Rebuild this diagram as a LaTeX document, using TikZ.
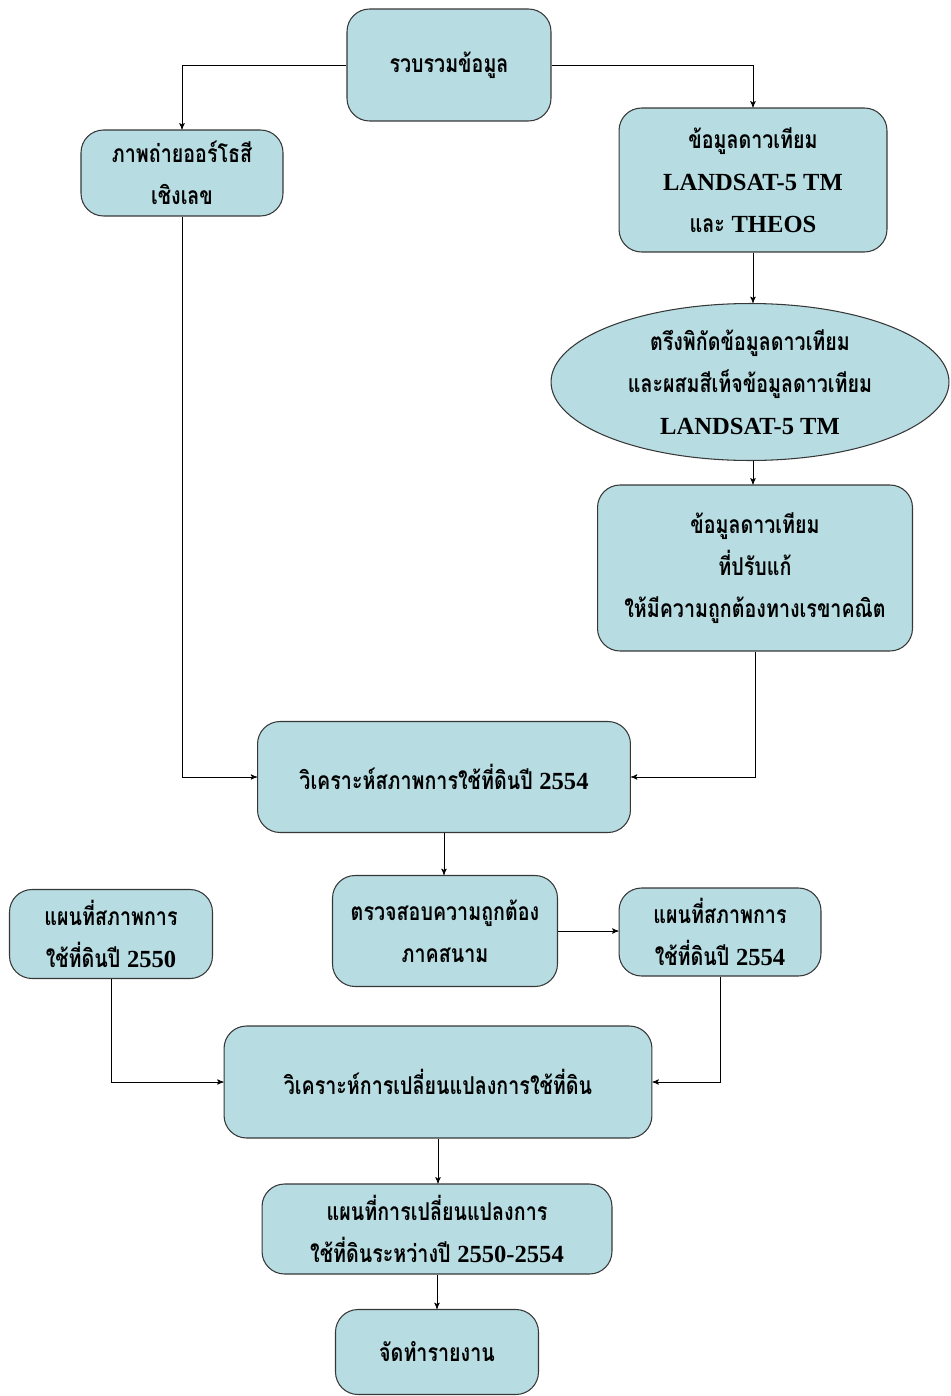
\documentclass[tikz,border=0pt]{standalone}
\usepackage{fontspec}
\setmainfont{Liberation Serif}
\newfontfamily\thaifont[Script=Thai, FakeStretch=0.8]{Loma}
\usetikzlibrary{arrows}
\usetikzlibrary{shapes.geometric}
\definecolor{boxfill}{RGB}{183,221,227}
\definecolor{boxline}{RGB}{55,55,55}
\newcommand{\lat}[1]{{\rmfamily\bfseries #1}}
\tikzset{
    flowtext/.style = {align=center, inner sep=0pt, text centered,
        font=\thaifont\bfseries\fontsize{14}{24}\selectfont},
    flowbox/.style = {flowtext, rectangle, rounded corners=0.45cm, draw=boxline,
        fill=boxfill, semithick},% กล่องขั้นตอน
    flowoval/.style = {flowtext, ellipse, draw=boxline, fill=boxfill, semithick},% วงรี
    flowline/.style = {->, >=stealth', thin, black},
}

\begin{document}
\begin{tikzpicture}[x=0.02cm, y=-0.02cm]
\useasboundingbox (0,0) rectangle (950,1396);
% กล่อง
\node [flowbox, minimum width=4.08cm, minimum height=2.24cm] (collect) at (449,65) {รวบรวมข้อมูล};
\node [flowbox, minimum width=4.04cm, minimum height=1.72cm] (ortho) at (182,173) {ภาพถ่ายออร์โธสี\\เชิงเลข};
\node [flowbox, minimum width=5.36cm, minimum height=2.88cm] (sat) at (753,180) {ข้อมูลดาวเทียม\\\lat{LANDSAT-5 TM}\\และ \lat{THEOS}};
\node [flowoval, minimum width=7.96cm, minimum height=3.14cm] (oval) at (750,382) {ตรึงพิกัดข้อมูลดาวเทียม\\และผสมสีเท็จข้อมูลดาวเทียม\\\lat{LANDSAT-5 TM}};
\node [flowbox, minimum width=6.3cm, minimum height=3.32cm] (corrected) at (755,568) {ข้อมูลดาวเทียม\\ที่ปรับแก้\\ให้มีความถูกต้องทางเรขาคณิต};
\node [flowbox, minimum width=7.46cm, minimum height=2.22cm] (landuse) at (444,777) {วิเคราะห์สภาพการใช้ที่ดินปี \lat{2554}};
\node [flowbox, minimum width=4.5cm, minimum height=2.22cm] (field) at (445,931) {ตรวจสอบความถูกต้อง\\ภาคสนาม};
\node [flowbox, minimum width=4.04cm, minimum height=1.76cm] (mapnew) at (720,932) {แผนที่สภาพการ\\ใช้ที่ดินปี \lat{2554}};
\node [flowbox, minimum width=4.06cm, minimum height=1.78cm] (mapold) at (111,934) {แผนที่สภาพการ\\ใช้ที่ดินปี \lat{2550}};
\node [flowbox, minimum width=8.56cm, minimum height=2.24cm] (change) at (438,1082) {วิเคราะห์การเปลี่ยนแปลงการใช้ที่ดิน};
\node [flowbox, minimum width=7.0cm, minimum height=1.8cm] (changemap) at (437,1229) {แผนที่การเปลี่ยนแปลงการ\\ใช้ที่ดินระหว่างปี \lat{2550-2554}};
\node [flowbox, minimum width=4.06cm, minimum height=1.7cm] (report) at (437,1352) {จัดทำรายงาน};
% เส้นเชื่อม
\draw [flowline] (collect.west) -| (ortho.north);
\draw [flowline] (collect.east) -| (sat.north);
\draw [flowline] (sat.south) -- (sat.south |- oval.north);
\draw [flowline] (sat.south |- oval.south) -- (sat.south |- corrected.north);
\draw [flowline] (ortho.south) |- (landuse.west);
\draw [flowline] (corrected.south) |- (landuse.east);
\draw [flowline] (landuse.south) -- (landuse.south |- field.north);
\draw [flowline] (field.east) -- (field.east -| mapnew.west);
\draw [flowline] (mapold.south) |- (change.west);
\draw [flowline] (mapnew.south) |- (change.east);
\draw [flowline] (change.south) -- (change.south |- changemap.north);
\draw [flowline] (changemap.south) -- (changemap.south |- report.north);
\end{tikzpicture}
\end{document}
